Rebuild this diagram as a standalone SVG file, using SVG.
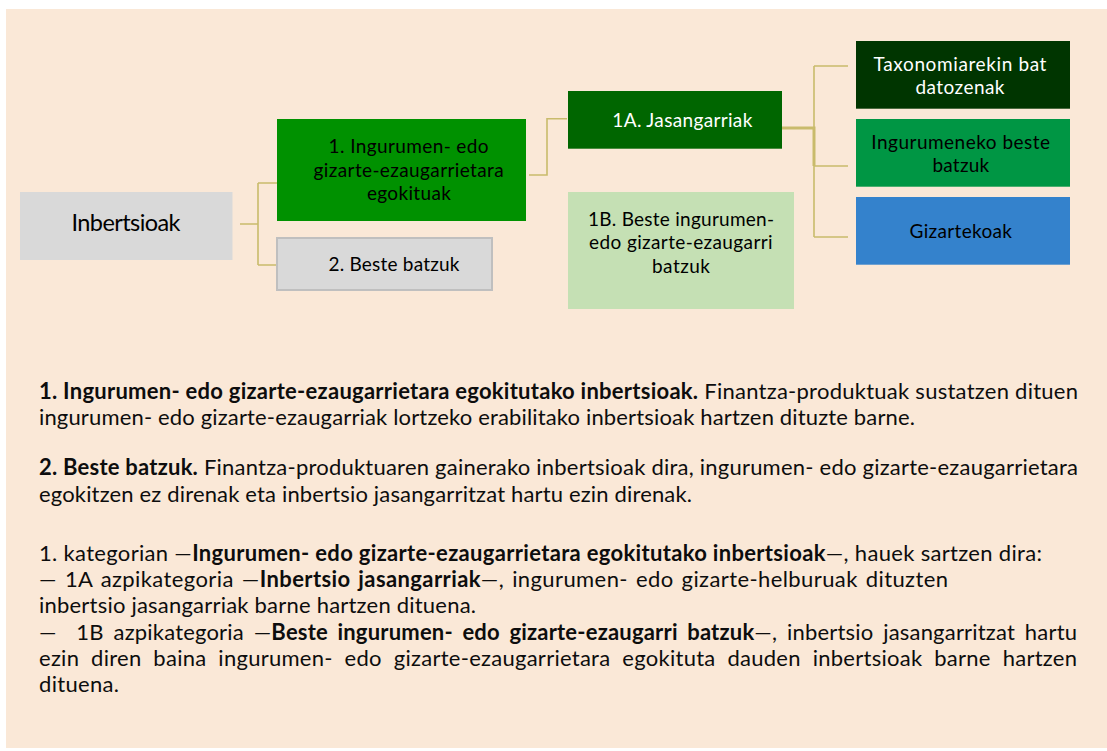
<svg xmlns="http://www.w3.org/2000/svg" width="1107" height="751" viewBox="0 0 1107 751">
  <style>
    .t { font-family: Lato, "Liberation Sans", "Noto Sans", sans-serif; fill: #000; }
    .box { font-size: 19px; text-anchor: middle; }
    .big { font-size: 23.5px; }
    .w { fill: #ffffff; }
    .body { font-size: 22px; fill: #0d0d0d; }
    .bd { font-weight: 700; }
    .con { fill: none; stroke: #C9BB6C; stroke-width: 1.6; }
    .con-thick { fill: none; stroke: #C9BB6C; stroke-width: 3; }
  </style>
  <rect x="0" y="0" width="1107" height="751" fill="#ffffff"/>
  <rect id="background" x="6" y="9" width="1101" height="739" fill="#FAE8D7"/>

  <g id="connectors">
    <path class="con" d="M240,224 H258 M258,183 V265 M258,183 H277 M258,265 H276"/>
    <path class="con" d="M529,175 H547 V118.7 H567"/>
    <path class="con-thick" d="M780,128 H814 V166"/>
    <path class="con" d="M814,66 V237 M814,66 H848 M814,166 H848 M814,237 H848"/>
  </g>

  <g id="node-inbertsioak">
    <rect x="20" y="192" width="212.5" height="68" fill="#D9D9D9"/>
    <text class="t box big" x="126" y="231" textLength="109" lengthAdjust="spacing">Inbertsioak</text>
  </g>

  <g id="node-1">
    <rect x="277" y="119" width="249" height="102" fill="#009100"/>
    <text class="t box" x="408.6" y="153" textLength="160" lengthAdjust="spacing">1. Ingurumen- edo</text>
    <text class="t box" x="408.6" y="176.5" textLength="190" lengthAdjust="spacing">gizarte-ezaugarrietara</text>
    <text class="t box" x="408.9" y="199.5" textLength="84" lengthAdjust="spacing">egokituak</text>
  </g>

  <g id="node-2">
    <rect x="277" y="238" width="215" height="52" fill="#D9D9D9" stroke="#BFBFBF" stroke-width="2"/>
    <text class="t box" x="394" y="270.5" textLength="131" lengthAdjust="spacing">2. Beste batzuk</text>
  </g>

  <g id="node-1a">
    <rect x="568" y="91" width="214" height="57.7" fill="#006600"/>
    <text class="t box w" x="682.3" y="126.5" textLength="140" lengthAdjust="spacing">1A. Jasangarriak</text>
  </g>

  <g id="node-1b">
    <rect x="568" y="192" width="226" height="117" fill="#C5E0B4"/>
    <text class="t box" x="681" y="226" textLength="186" lengthAdjust="spacing">1B. Beste ingurumen-</text>
    <text class="t box" x="680.8" y="249.3" textLength="183.5" lengthAdjust="spacing">edo gizarte-ezaugarri</text>
    <text class="t box" x="681" y="272.7" textLength="58" lengthAdjust="spacing">batzuk</text>
  </g>

  <g id="node-taxonomia">
    <rect x="856" y="41" width="214" height="67.7" fill="#003500"/>
    <text class="t box w" x="960" y="71.3" textLength="172.8" lengthAdjust="spacing">Taxonomiarekin bat</text>
    <text class="t box w" x="960" y="94" textLength="89" lengthAdjust="spacing">datozenak</text>
  </g>

  <g id="node-ingurumeneko">
    <rect x="856" y="119" width="214" height="67.7" fill="#009644"/>
    <text class="t box" x="960.7" y="149" textLength="178.7" lengthAdjust="spacing">Ingurumeneko beste</text>
    <text class="t box" x="960.8" y="171.7" textLength="56.8" lengthAdjust="spacing">batzuk</text>
  </g>

  <g id="node-gizartekoak">
    <rect x="856" y="197" width="214" height="67.7" fill="#3482CC"/>
    <text class="t box" x="960.8" y="238.3" textLength="102.4" lengthAdjust="spacing">Gizartekoak</text>
  </g>

  <g id="description">
    <text class="t body" x="39" y="398.5" textLength="1039" lengthAdjust="spacing"><tspan class="bd">1. Ingurumen- edo gizarte-ezaugarrietara egokitutako inbertsioak.</tspan> Finantza-produktuak sustatzen dituen</text>
    <text class="t body" x="39" y="424.5" textLength="876" lengthAdjust="spacing">ingurumen- edo gizarte-ezaugarriak lortzeko erabilitako inbertsioak hartzen dituzte barne.</text>
    <text class="t body" x="39" y="474.5" textLength="1039" lengthAdjust="spacing"><tspan class="bd">2. Beste batzuk.</tspan> Finantza-produktuaren gainerako inbertsioak dira, ingurumen- edo gizarte-ezaugarrietara</text>
    <text class="t body" x="39" y="501.5" textLength="653" lengthAdjust="spacing">egokitzen ez direnak eta inbertsio jasangarritzat hartu ezin direnak.</text>
    <text class="t body" x="39" y="561" textLength="1003" lengthAdjust="spacing">1. kategorian —<tspan class="bd">Ingurumen- edo gizarte-ezaugarrietara egokitutako inbertsioak</tspan>—, hauek sartzen dira:</text>
    <text class="t body" x="39" y="587" textLength="909" lengthAdjust="spacing" word-spacing="2">— 1A azpikategoria —<tspan class="bd">Inbertsio jasangarriak</tspan>—, ingurumen- edo gizarte-helburuak dituzten</text>
    <text class="t body" x="39" y="613" textLength="437" lengthAdjust="spacing">inbertsio jasangarriak barne hartzen dituena.</text>
    <text class="t body" x="39" y="640" textLength="1038" lengthAdjust="spacing" word-spacing="4" xml:space="preserve">—  1B azpikategoria —<tspan class="bd">Beste ingurumen- edo gizarte-ezaugarri batzuk</tspan>—, inbertsio jasangarritzat hartu</text>
    <text class="t body" x="39" y="666" textLength="1038" lengthAdjust="spacing" word-spacing="6">ezin diren baina ingurumen- edo gizarte-ezaugarrietara egokituta dauden inbertsioak barne hartzen</text>
    <text class="t body" x="39" y="692" textLength="80" lengthAdjust="spacing">dituena.</text>
  </g>
</svg>
